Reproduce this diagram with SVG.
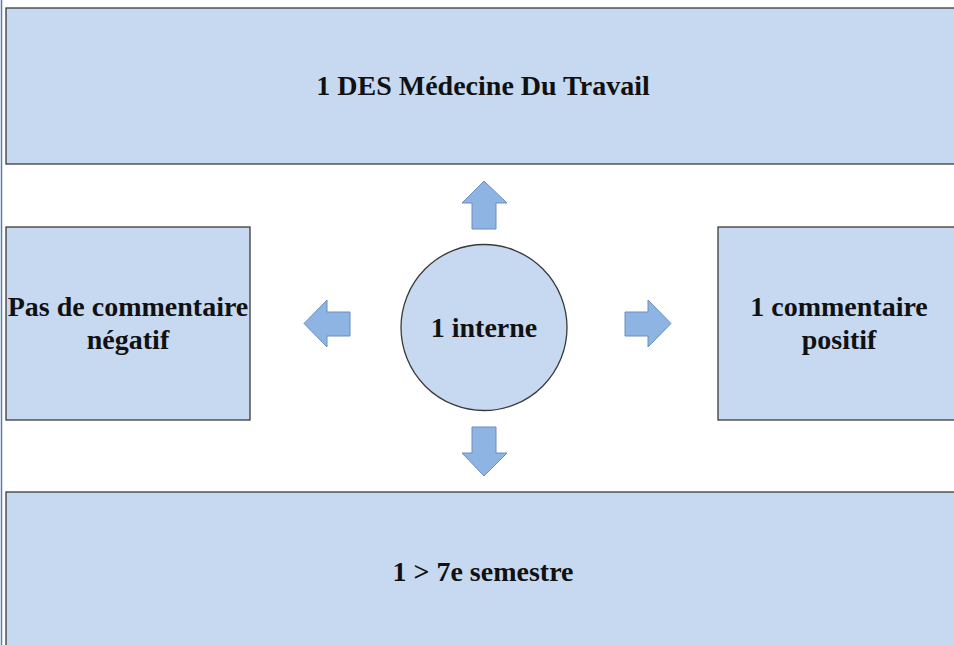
<svg xmlns="http://www.w3.org/2000/svg" width="954" height="645" viewBox="0 0 954 645">
<style>
.box{fill:#C6D9F1;stroke:#3a3a3a;stroke-width:1.3}
.arr{fill:#8EB4E3;stroke:#6A8EBF;stroke-width:1}
.t{font-family:"Liberation Serif",serif;font-weight:bold;font-size:28px;fill:#111;text-anchor:middle}
</style>
<rect width="954" height="645" fill="#fff"/>
<line x1="1.5" y1="0" x2="1.5" y2="645" stroke="#4F7DB5" stroke-width="1.5"/>
<g id="top"><rect class="box" x="6" y="8" width="960" height="156"/><text class="t" x="483" y="95">1 DES Médecine Du Travail</text></g>
<g id="left"><rect class="box" x="6" y="227" width="244" height="193"/><text class="t" x="128" y="316">Pas de commentaire</text><text class="t" x="128" y="349">négatif</text></g>
<g id="right"><rect class="box" x="718" y="227" width="250" height="193"/><text class="t" x="839" y="316">1 commentaire</text><text class="t" x="839" y="349">positif</text></g>
<g id="bottom"><rect class="box" x="6" y="492" width="960" height="170"/><text class="t" x="483" y="581">1 &gt; 7e semestre</text></g>
<g id="center"><circle class="box" cx="484" cy="327.5" r="83"/><text class="t" x="484" y="337">1 interne</text></g>
<g id="connectors">
<polygon class="arr" points="484,181 507,203 496,203 496,229 472,229 472,203 462,203"/>
<polygon class="arr" points="484,476 507,453 496,453 496,427 472,427 472,453 462,453"/>
<polygon class="arr" points="304,323.5 327,300 327,312 350,312 350,336 327,336 327,347"/>
<polygon class="arr" points="671,323.5 648,300 648,312 625,312 625,336 648,336 648,347"/>
</g>
</svg>
